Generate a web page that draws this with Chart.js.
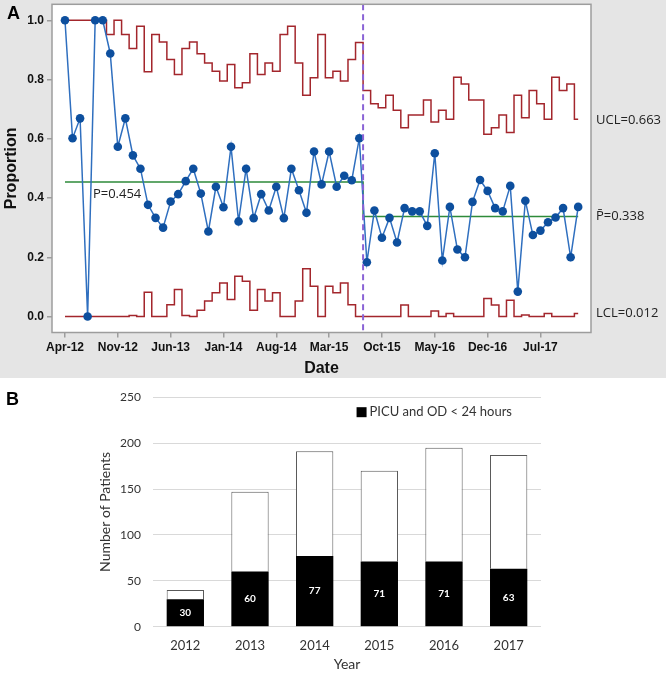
<!DOCTYPE html>
<html>
<head>
<meta charset="utf-8">
<script src="https://cdn.jsdelivr.net/npm/chart.js@4.4.0/dist/chart.umd.min.js"></script>
<style>
  body { margin: 0; background: #fff; width: 666px; height: 673px; position: relative; overflow: hidden; }
  #panelA { position: absolute; left: 0; top: 0; width: 666px; height: 378px; background: #e5e5e5; }
  #panelB { position: absolute; left: 0; top: 378px; width: 666px; height: 295px; }
  canvas { display: block; }
  .tag { position: absolute; font: bold 18px "Liberation Sans", Arial, sans-serif; color: #000; }
</style>
</head>
<body>
<div id="panelA">
  <canvas id="pchart" width="666" height="378"></canvas>
  <div class="tag" style="left:7px;top:3px">A</div>
</div>
<div id="panelB">
  <canvas id="barchart" width="666" height="295"></canvas>
  <div class="tag" style="left:6px;top:11px">B</div>
</div>
<script>
// ---- panel A : monthly p-chart, Apr-12 .. Dec-17 ----
const proportion = [
  1.00, 0.602, 0.669, 0.000, 1.00, 1.00, 0.888, 0.573, 0.669, 0.544,
  0.499, 0.377, 0.333, 0.300, 0.388, 0.413, 0.457, 0.499, 0.415, 0.287,
  0.438, 0.369, 0.573, 0.321, 0.499, 0.332, 0.413, 0.358, 0.438, 0.332,
  0.499, 0.426, 0.350, 0.557, 0.446, 0.557, 0.438, 0.475, 0.460, 0.602,
  0.183, 0.358, 0.266, 0.333, 0.250, 0.366, 0.355, 0.355, 0.306, 0.551,
  0.189, 0.370, 0.226, 0.200, 0.387, 0.461, 0.424, 0.366, 0.355, 0.441,
  0.084, 0.391, 0.275, 0.290, 0.318, 0.334, 0.366, 0.200, 0.370
];
const ucl = [
  1.00, 1.00, 1.00, 1.00, 1.00, 1.00, 0.952, 1.00, 0.952, 0.905,
  0.980, 0.826, 0.952, 0.927, 0.868, 0.817, 0.905, 0.927, 0.887, 0.856,
  0.828, 0.795, 0.851, 0.772, 0.789, 0.887, 0.817, 0.856, 0.828, 0.952,
  0.980, 0.856, 0.747, 0.806, 0.952, 0.806, 0.828, 0.795, 0.868, 0.925,
  0.763, 0.718, 0.705, 0.747, 0.696, 0.637, 0.680, 0.680, 0.731, 0.657,
  0.696, 0.666, 0.808, 0.785, 0.731, 0.731, 0.615, 0.637, 0.680, 0.621,
  0.747, 0.671, 0.763, 0.718, 0.666, 0.808, 0.763, 0.785, 0.666
];
const lcl = [
  0, 0, 0, 0, 0, 0, 0, 0, 0, 0.003,
  0, 0.082, 0, 0, 0.040, 0.091, 0.003, 0, 0.021, 0.052,
  0.080, 0.113, 0.057, 0.136, 0.119, 0.021, 0.091, 0.052, 0.080, 0,
  0, 0.052, 0.161, 0.102, 0, 0.102, 0.080, 0.113, 0.040, 0,
  0, 0, 0, 0, 0, 0.039, 0, 0, 0, 0.019,
  0, 0.010, 0, 0, 0, 0, 0.061, 0.039, 0, 0.055,
  0, 0.005, 0, 0, 0.010, 0, 0, 0, 0.010
];
const phaseStart  = [0, 40];        // Aug-15 starts phase 2
const centerLine  = [0.454, 0.338];
const tickMonths  = [0, 7, 14, 21, 28, 35, 42, 49, 56, 63];
const tickLabels  = ['Apr-12', 'Nov-12', 'Jun-13', 'Jan-14', 'Aug-14', 'Mar-15', 'Oct-15', 'May-16', 'Dec-16', 'Jul-17'];
const yTicks      = [0, 0.2, 0.4, 0.6, 0.8, 1.0];
const sideLabels  = [
  { text: 'UCL=0.663', value: 0.663 },
  { text: 'P\u0304=0.338', value: 0.338 },
  { text: 'LCL=0.012', value: 0.012 }
];

// ---- panel B : patients per year ----
const years         = ['2012', '2013', '2014', '2015', '2016', '2017'];
const picuOd        = [30, 60, 77, 71, 71, 63];
const otherPatients = [10, 87, 114, 99, 124, 124];

const sansA  = '"Liberation Sans", Arial, sans-serif';
const sansB  = 'Lato, "Open Sans", sans-serif';
const boxCol = '#9d9d9d';

const pts    = arr => arr.map((v, i) => ({ x: i, y: v }));
const center = proportion.map((_, i) => ({ x: i, y: centerLine[i >= phaseStart[1] ? 1 : 0] }));

const pchartDecor = {
  id: 'pchartDecor',
  beforeDraw(chart) {
    const { ctx, chartArea: a } = chart;
    ctx.save();
    ctx.fillStyle = '#fff';
    ctx.fillRect(a.left, a.top, a.width, a.height);
    ctx.restore();
  },
  afterDatasetsDraw(chart) {
    const { ctx, chartArea: a, scales: { x, y } } = chart;
    ctx.save();
    // phase split
    const xs = x.getPixelForValue(phaseStart[1] - 0.5);
    ctx.strokeStyle = '#8a63d6';
    ctx.lineWidth = 2;
    ctx.setLineDash([6, 4]);
    ctx.beginPath(); ctx.moveTo(xs, a.top); ctx.lineTo(xs, a.bottom); ctx.stroke();
    ctx.setLineDash([]);
    // plot frame
    ctx.strokeStyle = boxCol;
    ctx.lineWidth = 1.5;
    ctx.strokeRect(a.left, a.top, a.width, a.height);
    // labels
    ctx.font = '13px "Open Sans", sans-serif';
    ctx.fillStyle = '#222';
    ctx.textBaseline = 'middle';
    ctx.textAlign = 'left';
    sideLabels.forEach(l => ctx.fillText(l.text, a.right + 5, y.getPixelForValue(l.value)));
    ctx.fillText('P=' + centerLine[0].toFixed(3), x.getPixelForValue(3.7), y.getPixelForValue(centerLine[0]) + 12);
    ctx.restore();
  }
};

new Chart(document.getElementById('pchart'), {
  type: 'line',
  data: {
    datasets: [
      { label: 'Proportion', data: pts(proportion), borderColor: '#2f6fbf', borderWidth: 1.5,
        pointRadius: 4.3, pointHoverRadius: 4.3, pointBackgroundColor: '#0d4f9e', pointBorderWidth: 0 },
      { label: 'UCL', data: pts(ucl), stepped: 'middle', borderColor: '#a3262c', borderWidth: 1.5, pointRadius: 0 },
      { label: 'LCL', data: pts(lcl), stepped: 'middle', borderColor: '#a3262c', borderWidth: 1.5, pointRadius: 0 },
      { label: 'P', data: center, stepped: 'middle', borderColor: '#2e8b3a', borderWidth: 1.5, pointRadius: 0 }
    ]
  },
  options: {
    responsive: false,
    animation: false,
    layout: { padding: { left: 0, right: 75, top: 3, bottom: 0 } },
    plugins: { legend: { display: false }, tooltip: { enabled: false } },
    scales: {
      x: {
        type: 'linear', min: -1.72, max: 69.7,
        afterBuildTicks: s => { s.ticks = tickMonths.map(v => ({ value: v })); },
        afterFit: s => { s.height = 45.5; s.paddingLeft = 0; s.paddingRight = 0; },
        grid: { drawOnChartArea: false, tickLength: 5, color: boxCol, lineWidth: 1.5 },
        border: { display: false },
        ticks: { padding: 3, maxRotation: 0, autoSkip: false, color: '#111',
                 font: { family: sansA, size: 12, weight: 'bold' },
                 callback: (v, i) => tickLabels[i] },
        title: { display: true, text: 'Date', color: '#111', padding: { top: 0, bottom: 0 },
                 font: { family: sansA, size: 16, weight: 'bold' } }
      },
      y: {
        min: -0.054, max: 1.054,
        afterBuildTicks: s => { s.ticks = yTicks.map(v => ({ value: v })); },
        afterFit: s => { s.width = 52; s.paddingTop = 0; s.paddingBottom = 0; },
        grid: { drawOnChartArea: false, tickLength: 5, color: boxCol, lineWidth: 1.5 },
        border: { display: false },
        ticks: { padding: 3, color: '#111', font: { family: sansA, size: 12, weight: 'bold' },
                 callback: v => v.toFixed(1) },
        title: { display: true, text: 'Proportion', color: '#111', padding: { top: 2, bottom: 0 },
                 font: { family: sansA, size: 16, weight: 'bold' } }
      }
    }
  },
  plugins: [pchartDecor]
});

const barDecor = {
  id: 'barDecor',
  afterDatasetsDraw(chart) {
    const { ctx, chartArea: a } = chart;
    ctx.save();
    // counts inside black bars
    ctx.font = 'bold 10px ' + sansB;
    ctx.fillStyle = '#fff';
    ctx.textAlign = 'center';
    ctx.textBaseline = 'middle';
    chart.getDatasetMeta(0).data.forEach((el, i) => {
      ctx.fillText(String(picuOd[i]), el.x, (el.y + el.base) / 2);
    });
    // legend
    const ds = chart.data.datasets[0];
    ctx.font = '13px ' + sansB;
    ctx.fillStyle = '#333';
    ctx.textAlign = 'right';
    const right = a.right - 29, ly = a.top + 15;
    ctx.fillText(ds.label, right, ly);
    const left = right - ctx.measureText(ds.label).width;
    ctx.fillStyle = ds.backgroundColor;
    ctx.fillRect(left - 13, ly - 5, 10, 10);
    ctx.restore();
  }
};

new Chart(document.getElementById('barchart'), {
  type: 'bar',
  data: {
    labels: years,
    datasets: [
      { label: 'PICU and OD < 24 hours', data: picuOd, backgroundColor: '#000', borderWidth: 0,
        barPercentage: 0.577, categoryPercentage: 1 },
      { label: 'Other patients', data: otherPatients, backgroundColor: '#fff', borderColor: '#595959',
        borderWidth: 1, barPercentage: 0.577, categoryPercentage: 1 }
    ]
  },
  options: {
    responsive: false,
    animation: false,
    layout: { padding: { left: 95, right: 125, top: 15, bottom: 0 } },
    plugins: { legend: { display: false }, tooltip: { enabled: false } },
    scales: {
      x: {
        stacked: true,
        afterFit: s => { s.height = 46.3; },
        grid: { display: false },
        border: { display: false },
        ticks: { padding: 3, color: '#333', font: { family: sansB, size: 13 } },
        title: { display: true, text: 'Year', color: '#333', padding: { top: 0, bottom: 0 },
                 font: { family: sansB, size: 14 } }
      },
      y: {
        stacked: true, min: 0, max: 250,
        afterFit: s => { s.width = 58; },
        grid: { color: '#d9d9d9', drawTicks: false },
        border: { display: false },
        ticks: { stepSize: 50, padding: 12, color: '#333', font: { family: sansB, size: 12 } },
        title: { display: true, text: 'Number of Patients', color: '#333', padding: { top: 2, bottom: 0 },
                 font: { family: sansB, size: 14 } }
      }
    }
  },
  plugins: [barDecor]
});
</script>
</body>
</html>
